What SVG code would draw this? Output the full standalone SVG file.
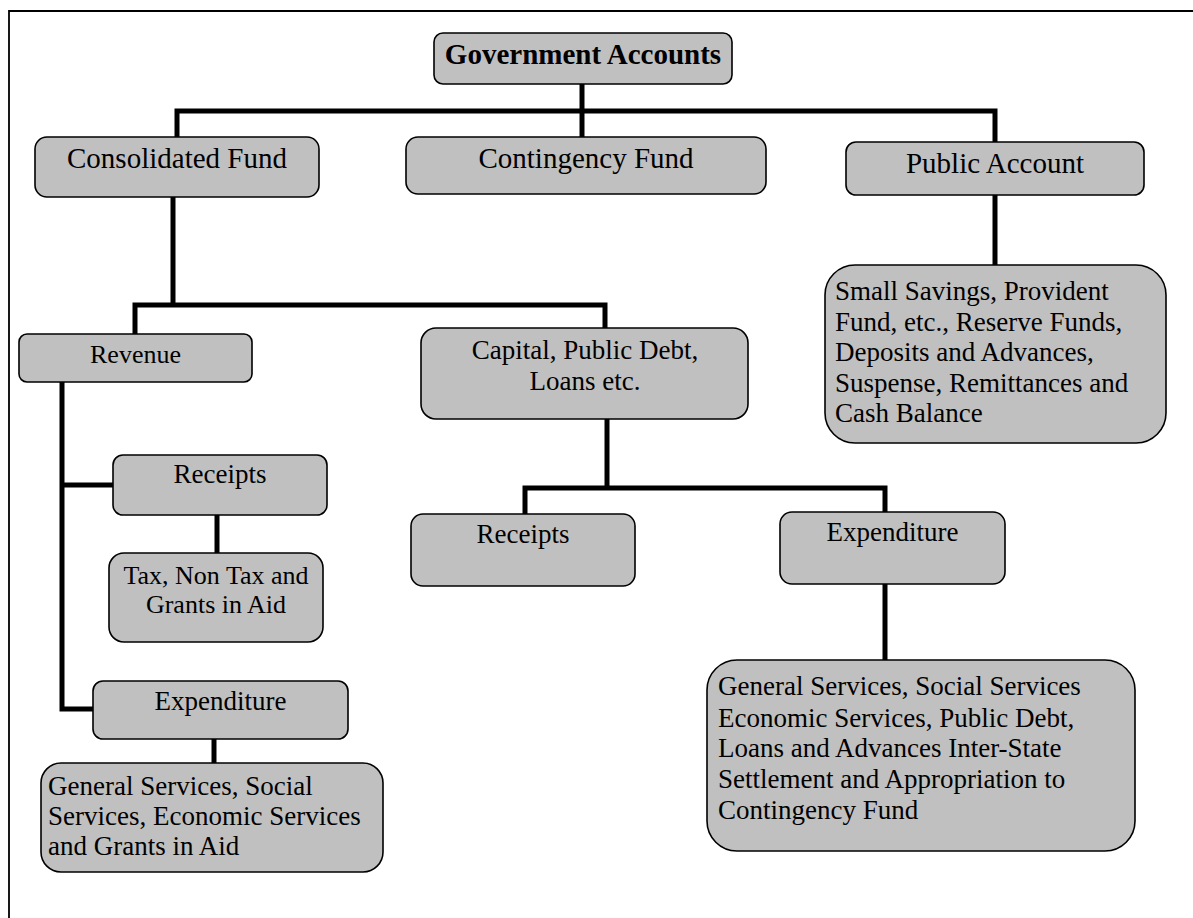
<svg xmlns="http://www.w3.org/2000/svg" width="1193" height="918" viewBox="0 0 1193 918">
<style>
.box{fill:#c0c0c0;stroke:#000;stroke-width:1.6}
.t{font-family:"Liberation Serif","Times New Roman",serif;fill:#000;font-size:27px}
.c{text-anchor:middle}
.b{font-weight:bold;font-size:29px}
.lg{font-size:29px}
.conn{fill:none;stroke:#000;stroke-width:5;stroke-linejoin:miter;stroke-linecap:butt}
</style>
<rect width="1193" height="918" fill="#fff"/>
<path d="M9,918 V11 H1193" fill="none" stroke="#000" stroke-width="1.8"/>
<g id="connectors" class="conn">
<path d="M582,84 V137"/>
<path d="M177,137 V111 H995 V142"/>
<path d="M173,197 V305"/>
<path d="M135,334 V305 H605 V328"/>
<path d="M995,195 V265"/>
<path d="M62,382 V709 H93"/>
<path d="M62,485 H113"/>
<path d="M217,515 V553"/>
<path d="M214,739 V763"/>
<path d="M607,419 V488"/>
<path d="M525,514 V488 H885 V512"/>
<path d="M885,584 V660"/>
</g>
<g id="government-accounts">
<rect class="box" x="434" y="33" width="298" height="51" rx="9"/>
<text class="t c b" x="583" y="64">Government Accounts</text>
</g>
<g id="consolidated-fund">
<rect class="box" x="35" y="137" width="284" height="60" rx="12"/>
<text class="t c lg" x="177" y="168">Consolidated Fund</text>
</g>
<g id="contingency-fund">
<rect class="box" x="406" y="137" width="360" height="57" rx="12"/>
<text class="t c lg" x="586" y="168">Contingency Fund</text>
</g>
<g id="public-account">
<rect class="box" x="846" y="142" width="298" height="53" rx="10"/>
<text class="t c lg" x="995" y="173">Public Account</text>
</g>
<g id="public-account-items">
<rect class="box" x="825" y="265" width="341" height="178" rx="30"/>
<text class="t" x="835" y="300">Small Savings, Provident</text>
<text class="t" x="835" y="331">Fund, etc., Reserve Funds,</text>
<text class="t" x="835" y="361">Deposits and Advances,</text>
<text class="t" x="835" y="392">Suspense, Remittances and</text>
<text class="t" x="835" y="422">Cash Balance</text>
</g>
<g id="revenue">
<rect class="box" x="19" y="334" width="233" height="48" rx="8"/>
<text class="t c" x="135.5" y="363" style="font-size:26px">Revenue</text>
</g>
<g id="capital">
<rect class="box" x="421" y="328" width="327" height="91" rx="15"/>
<text class="t c" x="585" y="359">Capital, Public Debt,</text>
<text class="t c" x="585" y="390">Loans etc.</text>
</g>
<g id="revenue-receipts">
<rect class="box" x="113" y="455" width="214" height="60" rx="10"/>
<text class="t c" x="220" y="483">Receipts</text>
</g>
<g id="revenue-receipts-items">
<rect class="box" x="109" y="553" width="214" height="89" rx="15"/>
<text class="t c" x="216" y="584" style="font-size:26px">Tax, Non Tax and</text>
<text class="t c" x="216" y="613" style="font-size:26px">Grants in Aid</text>
</g>
<g id="revenue-expenditure">
<rect class="box" x="93" y="681" width="255" height="58" rx="10"/>
<text class="t c" x="220.5" y="710">Expenditure</text>
</g>
<g id="revenue-expenditure-items">
<rect class="box" x="41" y="763" width="342" height="109" rx="20"/>
<text class="t" x="48" y="795">General Services, Social</text>
<text class="t" x="48" y="825">Services, Economic Services</text>
<text class="t" x="48" y="855">and Grants in Aid</text>
</g>
<g id="capital-receipts">
<rect class="box" x="411" y="514" width="224" height="72" rx="12"/>
<text class="t c" x="523" y="543">Receipts</text>
</g>
<g id="capital-expenditure">
<rect class="box" x="780" y="512" width="225" height="72" rx="12"/>
<text class="t c" x="892.5" y="541">Expenditure</text>
</g>
<g id="capital-expenditure-items">
<rect class="box" x="707" y="660" width="428" height="191" rx="30"/>
<text class="t" x="718" y="695">General Services, Social Services</text>
<text class="t" x="718" y="727">Economic Services, Public Debt,</text>
<text class="t" x="718" y="757">Loans and Advances Inter-State</text>
<text class="t" x="718" y="788">Settlement and Appropriation to</text>
<text class="t" x="718" y="819">Contingency Fund</text>
</g>
</svg>
